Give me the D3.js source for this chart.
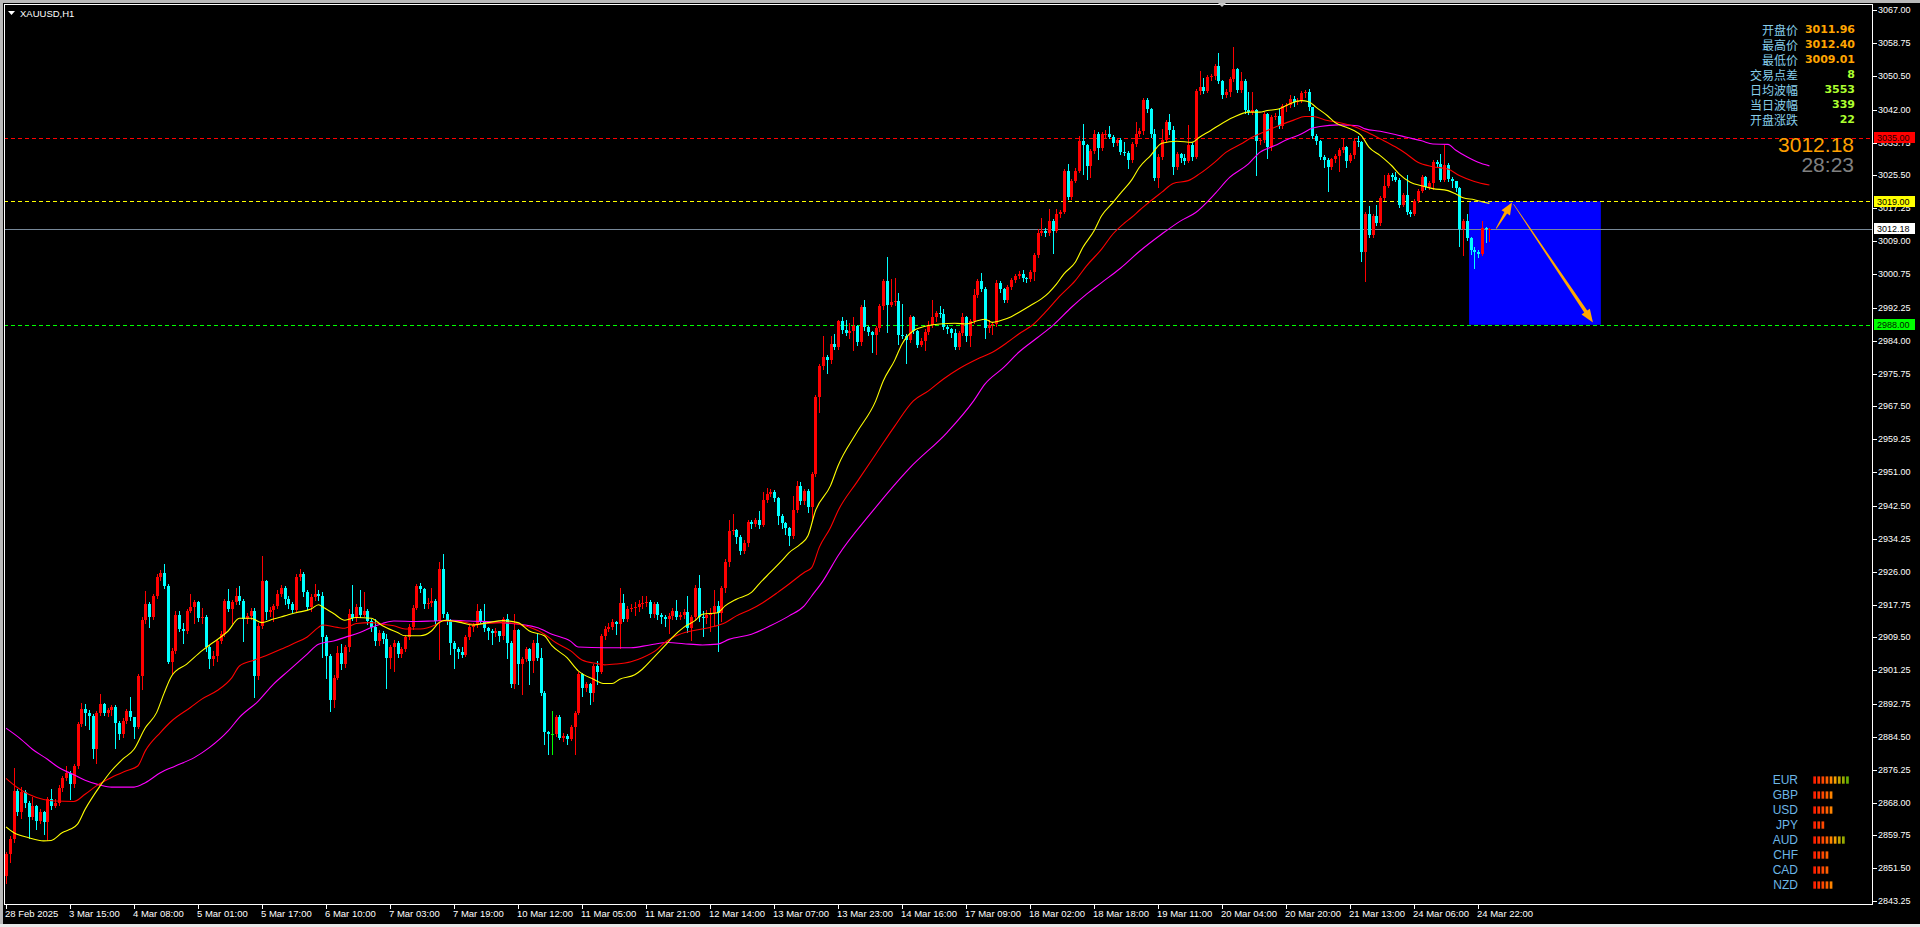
<!DOCTYPE html>
<html><head><meta charset="utf-8">
<script src="https://cdn.jsdelivr.net/npm/d3@7"></script>
<style>html,body{margin:0;padding:0;background:#000;overflow:hidden}svg{display:block}</style>
</head><body>
<svg id="chart" width="1920" height="927"></svg>
<script>
// ---------------- DATA ----------------
const symbolTitle = "XAUUSD,H1";
const timeLabels = ["28 Feb 2025","3 Mar 15:00","4 Mar 08:00","5 Mar 01:00","5 Mar 17:00","6 Mar 10:00","7 Mar 03:00","7 Mar 19:00","10 Mar 12:00","11 Mar 05:00","11 Mar 21:00","12 Mar 14:00","13 Mar 07:00","13 Mar 23:00","14 Mar 16:00","17 Mar 09:00","18 Mar 02:00","18 Mar 18:00","19 Mar 11:00","20 Mar 04:00","20 Mar 20:00","21 Mar 13:00","24 Mar 06:00","24 Mar 22:00"];
const timeLabelBars = [0,17,34,51,68,85,102,119,136,153,170,187,204,221,238,255,272,289,306,323,340,357,374,391];
const priceTicks = [3067.00,3058.75,3050.50,3042.00,3033.75,3025.50,3017.25,3009.00,3000.75,2992.25,2984.00,2975.75,2967.50,2959.25,2951.00,2942.50,2934.25,2926.00,2917.75,2909.50,2901.25,2892.75,2884.50,2876.25,2868.00,2859.75,2851.50,2843.25];

const closes = [
2855.2,2858.9,2870.9,2865.7,2870.7,2868.0,2864.4,2867.1,2863.4,2865.6,
2863.1,2868.8,2867.2,2868.0,2871.6,2874.1,2875.5,2872.6,2877.2,2887.7,
2891.5,2890.6,2889.8,2881.4,2890.4,2892.7,2890.6,2891.2,2891.9,2888.1,
2885.2,2888.5,2891.0,2889.4,2887.1,2899.8,2913.9,2917.8,2914.5,2919.9,
2924.7,2925.6,2922.4,2903.3,2906.1,2915.1,2911.6,2911.1,2916.2,2917.2,
2918.3,2914.3,2914.7,2907.0,2904.0,2904.8,2908.6,2910.3,2918.7,2916.6,
2918.3,2919.9,2918.7,2914.1,2914.9,2916.2,2899.8,2912.4,2923.7,2915.8,
2916.4,2917.4,2920.5,2922.0,2919.1,2918.0,2916.3,2924.7,2925.4,2921.0,
2917.2,2919.7,2920.4,2920.0,2909.6,2904.9,2893.7,2899.4,2905.7,2902.9,
2907.0,2915.3,2914.3,2917.2,2915.2,2916.2,2913.6,2912.2,2908.5,2910.7,
2909.0,2904.4,2907.0,2908.2,2905.3,2906.5,2909.6,2912.1,2917.0,2922.4,
2921.6,2917.8,2918.2,2918.7,2913.6,2926.6,2915.3,2913.6,2908.0,2906.5,
2905.8,2905.1,2909.6,2912.0,2912.6,2916.2,2913.7,2911.8,2911.1,2910.7,
2911.0,2909.9,2914.2,2908.2,2897.7,2911.3,2902.8,2904.0,2906.5,2903.6,
2908.2,2904.4,2895.6,2885.8,2885.2,2885.2,2889.4,2884.3,2884.8,2884.0,
2887.0,2890.6,2900.3,2896.7,2897.7,2895.6,2902.3,2900.9,2909.9,2911.7,
2912.2,2913.4,2912.8,2918.1,2914.1,2916.6,2917.0,2917.2,2917.8,2918.2,
2918.4,2915.3,2917.8,2915.2,2914.6,2914.1,2914.9,2916.2,2914.5,2915.2,
2915.9,2911.8,2914.5,2922.0,2914.5,2914.3,2915.0,2915.5,2917.4,2915.7,
2922.0,2928.5,2936.3,2936.4,2934.8,2931.2,2933.3,2938.4,2937.9,2938.9,
2937.8,2944.0,2945.6,2945.9,2944.5,2939.9,2938.2,2936.9,2935.0,2941.5,
2947.6,2943.8,2946.3,2942.3,2950.5,2969.9,2977.7,2980.0,2979.1,2983.3,
2982.5,2988.9,2986.7,2985.9,2986.5,2987.8,2983.8,2992.5,2987.5,2986.2,
2985.5,2987.1,2992.8,2998.9,2993.0,2993.6,2993.9,2985.5,2985.2,2984.2,
2989.9,2986.5,2983.0,2984.0,2986.3,2988.0,2990.0,2990.9,2990.8,2987.5,
2986.9,2986.0,2982.3,2986.0,2989.9,2985.2,2988.9,2995.6,2999.1,2997.0,
2987.2,2988.0,2988.2,2998.6,2996.9,2994.3,2997.6,2999.2,3000.2,3000.8,
2999.7,2999.4,3001.3,3005.6,3011.0,3011.5,3011.0,3014.1,3011.6,3015.7,
3016.2,3026.5,3020.0,3024.2,3026.7,3034.2,3033.1,3027.8,3031.7,3035.9,
3032.3,3035.8,3036.0,3035.2,3033.6,3034.4,3031.3,3031.2,3029.4,3033.4,
3035.9,3036.6,3044.5,3042.1,3035.8,3024.9,3030.2,3034.5,3039.0,3036.8,
3027.5,3030.9,3030.0,3029.2,3033.2,3030.1,3046.8,3047.8,3046.8,3050.2,
3050.6,3053.1,3049.2,3045.8,3046.5,3049.7,3052.2,3047.0,3049.1,3041.9,
3041.5,3042.0,3034.2,3034.4,3040.9,3032.6,3040.3,3040.5,3038.0,3043.0,
3043.3,3044.7,3043.9,3044.3,3046.2,3046.4,3042.6,3035.5,3034.25,3030.2,
3029.4,3027.7,3029.6,3030.5,3031.9,3032.7,3029.2,3030.7,3034.25,3033.9,
3006.4,3015.7,3010.6,3015.2,3013.5,3019.8,3022.9,3025.5,3025.0,3024.4,
3018.2,3020.7,3016.2,3015.8,3019.2,3021.7,3025.0,3022.5,3023.5,3029.0,
3028.4,3024.4,3028.2,3024.6,3024.0,3022.4,3012.1,3014.1,3009.7,3006.8,
3006.4,3005.9,3012.3,3011.96,3012.18];

const opens = [
2849.6,2855.2,2858.9,2870.9,2865.7,2870.7,2868.0,2864.4,2867.1,2863.4,
2865.6,2863.1,2868.8,2867.2,2868.0,2871.6,2874.1,2875.5,2872.6,2877.2,
2887.7,2891.5,2890.6,2889.8,2881.4,2890.4,2892.7,2890.6,2891.2,2891.9,
2888.1,2885.2,2888.5,2891.0,2889.4,2887.1,2899.8,2913.9,2917.8,2914.5,
2919.9,2924.7,2925.6,2922.4,2903.3,2906.1,2915.1,2911.6,2911.1,2916.2,
2917.2,2918.3,2914.3,2914.7,2907.0,2904.0,2904.8,2908.6,2910.3,2918.7,
2916.6,2918.3,2919.9,2918.7,2914.1,2914.9,2916.2,2899.8,2912.4,2923.7,
2915.8,2916.4,2917.4,2920.5,2922.0,2919.1,2918.0,2916.3,2924.7,2925.4,
2921.0,2917.2,2919.7,2920.4,2920.0,2909.6,2904.9,2893.7,2899.4,2905.7,
2902.9,2907.0,2915.3,2914.3,2917.2,2915.2,2916.2,2913.6,2912.2,2908.5,
2910.7,2909.0,2904.4,2907.0,2908.2,2905.3,2906.5,2909.6,2912.1,2917.0,
2922.4,2921.6,2917.8,2918.2,2918.7,2913.6,2926.6,2915.3,2913.6,2908.0,
2906.5,2905.8,2905.1,2909.6,2912.0,2912.6,2916.2,2913.7,2911.8,2911.1,
2910.7,2911.0,2909.9,2914.2,2908.2,2897.7,2911.3,2902.8,2904.0,2906.5,
2903.6,2908.2,2904.4,2895.6,2885.8,2885.2,2885.2,2889.4,2884.3,2884.8,
2884.0,2887.0,2890.6,2900.3,2896.7,2897.7,2895.6,2902.3,2900.9,2909.9,
2911.7,2912.2,2913.4,2912.8,2918.1,2914.1,2916.6,2917.0,2917.2,2917.8,
2918.2,2918.4,2915.3,2917.8,2915.2,2914.6,2914.1,2914.9,2916.2,2914.5,
2915.2,2915.9,2911.8,2914.5,2922.0,2914.5,2914.3,2915.0,2915.5,2917.4,
2915.7,2922.0,2928.5,2936.3,2936.4,2934.8,2931.2,2933.3,2938.4,2937.9,
2938.9,2937.8,2944.0,2945.6,2945.9,2944.5,2939.9,2938.2,2936.9,2935.0,
2941.5,2947.6,2943.8,2946.3,2942.3,2950.5,2969.9,2977.7,2980.0,2979.1,
2983.3,2982.5,2988.9,2986.7,2985.9,2986.5,2987.8,2983.8,2992.5,2987.5,
2986.2,2985.5,2987.1,2992.8,2998.9,2993.0,2993.6,2993.9,2985.5,2985.2,
2984.2,2989.9,2986.5,2983.0,2984.0,2986.3,2988.0,2990.0,2990.9,2990.8,
2987.5,2986.9,2986.0,2982.3,2986.0,2989.9,2985.2,2988.9,2995.6,2999.1,
2997.0,2987.2,2988.0,2988.2,2998.6,2996.9,2994.3,2997.6,2999.2,3000.2,
3000.8,2999.7,2999.4,3001.3,3005.6,3011.0,3011.5,3011.0,3014.1,3011.6,
3015.7,3016.2,3026.5,3020.0,3024.2,3026.7,3034.2,3033.1,3027.8,3031.7,
3035.9,3032.3,3035.8,3036.0,3035.2,3033.6,3034.4,3031.3,3031.2,3029.4,
3033.4,3035.9,3036.6,3044.5,3042.1,3035.8,3024.9,3030.2,3034.5,3039.0,
3036.8,3027.5,3030.9,3030.0,3029.2,3033.2,3030.1,3046.8,3047.8,3046.8,
3050.2,3050.6,3053.1,3049.2,3045.8,3046.5,3049.7,3052.2,3047.0,3049.1,
3041.9,3041.5,3042.0,3034.2,3034.4,3040.9,3032.6,3040.3,3040.5,3038.0,
3043.0,3043.3,3044.7,3043.9,3044.3,3046.2,3046.4,3042.6,3035.5,3034.25,
3030.2,3029.4,3027.7,3029.6,3030.5,3031.9,3032.7,3029.2,3030.7,3034.25,
3033.9,3006.4,3015.7,3010.6,3015.2,3013.5,3019.8,3022.9,3025.5,3025.0,
3024.4,3018.2,3020.7,3016.2,3015.8,3019.2,3021.7,3025.0,3022.5,3023.5,
3029.0,3028.4,3024.4,3028.2,3024.6,3024.0,3022.4,3012.1,3014.1,3009.7,
3006.8,3006.4,3005.9,3012.3,3011.96];

const highs = [
2855.5,2859.5,2876.8,2871.5,2871.8,2871.2,2868.5,2869.3,2867.5,2866.5,
2866.0,2869.5,2871.3,2869.0,2872.3,2874.6,2877.2,2876.0,2877.6,2888.2,
2893.1,2892.8,2891.2,2890.2,2891.0,2895.2,2893.0,2891.8,2892.5,2892.4,
2888.5,2889.2,2891.5,2894.4,2889.6,2900.3,2914.5,2921.2,2918.3,2920.5,
2925.4,2926.5,2927.9,2922.8,2906.8,2916.0,2916.2,2913.0,2916.7,2920.4,
2918.8,2918.7,2917.0,2915.0,2907.6,2906.0,2909.0,2911.0,2919.2,2921.6,
2918.8,2922.0,2922.4,2919.2,2915.5,2916.8,2916.8,2913.0,2930.0,2924.0,
2917.2,2918.0,2921.5,2922.6,2922.5,2920.0,2918.5,2925.3,2926.6,2925.8,
2921.5,2920.3,2922.9,2921.5,2920.8,2910.2,2905.4,2900.0,2907.4,2907.8,
2907.5,2916.6,2922.7,2917.8,2921.3,2920.8,2916.6,2914.0,2914.0,2911.3,
2911.0,2910.3,2907.6,2908.8,2908.6,2907.2,2910.2,2912.8,2917.6,2923.0,
2923.1,2921.8,2919.5,2922.0,2919.2,2928.5,2930.4,2915.8,2914.0,2908.5,
2907.0,2907.0,2910.2,2912.6,2913.2,2918.0,2916.5,2918.0,2912.0,2911.5,
2911.8,2911.2,2914.6,2915.3,2908.6,2915.3,2911.5,2904.5,2907.0,2906.8,
2908.8,2910.7,2906.9,2896.0,2886.0,2891.0,2890.0,2890.0,2885.5,2885.3,
2887.5,2891.0,2900.8,2900.6,2898.3,2898.0,2902.8,2903.6,2910.3,2912.3,
2913.0,2914.2,2913.7,2921.9,2920.5,2917.5,2917.8,2918.5,2919.0,2919.8,
2920.0,2918.8,2918.3,2918.4,2915.6,2915.0,2915.5,2916.8,2918.8,2915.8,
2916.5,2920.0,2915.0,2922.6,2925.2,2916.0,2916.4,2917.0,2921.3,2918.7,
2922.5,2929.3,2938.9,2940.6,2936.8,2935.2,2934.0,2938.9,2939.0,2939.5,
2941.3,2945.9,2947.0,2946.8,2946.5,2944.8,2940.4,2938.5,2937.2,2945.1,
2948.8,2948.4,2946.8,2946.8,2951.0,2970.4,2978.2,2985.3,2980.5,2985.3,
2985.7,2989.2,2990.0,2989.2,2988.4,2990.0,2988.0,2993.0,2994.1,2987.8,
2986.5,2987.6,2993.3,2999.5,3004.9,2999.5,2999.7,2996.1,2993.2,2985.8,
2990.4,2990.3,2986.8,2984.8,2987.0,2989.0,2994.1,2991.5,2992.8,2992.0,
2988.0,2987.2,2987.0,2986.5,2990.9,2990.2,2989.4,2997.0,2999.5,3001.0,
2997.4,2989.2,2988.8,2999.2,2999.1,2997.2,2998.1,2999.7,3000.7,3001.6,
3001.7,3000.1,3001.8,3006.0,3012.0,3014.7,3012.4,3017.1,3014.6,3017.1,
3016.8,3027.1,3028.4,3024.7,3027.3,3035.5,3038.3,3033.5,3032.2,3036.8,
3036.3,3036.3,3036.9,3038.0,3035.6,3034.9,3034.8,3033.8,3031.6,3034.0,
3039.0,3037.3,3045.0,3044.9,3042.5,3037.2,3030.8,3037.2,3039.5,3040.9,
3038.0,3031.4,3031.2,3031.0,3038.2,3033.7,3047.3,3051.8,3050.0,3050.7,
3051.0,3053.6,3056.3,3049.5,3047.2,3050.3,3057.7,3052.6,3051.4,3049.6,
3046.4,3046.4,3042.3,3035.0,3041.4,3041.2,3040.8,3041.2,3042.2,3043.5,
3043.8,3045.8,3045.5,3045.0,3046.8,3047.0,3047.2,3042.8,3035.8,3034.5,
3030.6,3030.0,3030.0,3031.0,3032.4,3034.7,3033.0,3031.2,3034.8,3035.3,
3034.2,3016.2,3017.9,3015.7,3018.2,3020.3,3025.5,3026.0,3026.2,3026.3,
3024.8,3021.2,3025.7,3016.8,3019.7,3022.2,3025.5,3025.4,3024.2,3029.5,
3029.5,3030.9,3033.2,3028.6,3025.0,3024.2,3022.6,3014.6,3015.7,3010.0,
3007.5,3006.9,3014.1,3012.5,3012.40];

const lows = [
2847.7,2853.0,2858.0,2865.0,2864.2,2867.0,2859.2,2864.0,2861.3,2863.0,
2860.0,2858.5,2866.5,2866.8,2867.5,2871.0,2873.8,2868.8,2872.0,2876.8,
2887.2,2887.5,2886.5,2879.3,2878.0,2890.0,2890.0,2889.8,2890.0,2881.8,
2884.0,2884.5,2888.0,2888.8,2884.3,2886.8,2896.5,2913.0,2912.0,2914.0,
2919.5,2923.8,2922.0,2903.0,2900.3,2905.6,2911.0,2908.2,2910.5,2915.8,
2913.2,2913.6,2913.0,2906.0,2901.9,2902.5,2903.5,2908.0,2909.8,2916.0,
2913.0,2917.8,2918.0,2908.6,2913.0,2914.0,2894.4,2899.0,2911.8,2914.0,
2914.8,2913.5,2916.8,2920.0,2918.0,2917.0,2915.8,2916.0,2924.0,2920.0,
2916.5,2916.0,2919.0,2918.8,2904.6,2899.4,2890.9,2891.9,2899.0,2901.5,
2902.0,2906.0,2913.8,2913.5,2914.6,2914.8,2912.8,2911.2,2907.5,2907.6,
2908.0,2896.7,2901.7,2901.1,2904.6,2904.5,2906.0,2909.0,2911.5,2916.5,
2921.0,2917.0,2916.8,2917.5,2912.8,2904.0,2914.5,2912.8,2905.3,2901.9,
2904.2,2904.5,2904.7,2909.0,2911.0,2912.0,2913.0,2911.0,2909.0,2907.8,
2909.8,2908.5,2909.2,2904.4,2897.0,2896.9,2897.7,2895.2,2903.5,2897.7,
2900.7,2903.8,2895.0,2882.7,2880.2,2880.2,2884.8,2883.9,2883.5,2882.6,
2883.7,2880.2,2890.2,2894.8,2896.0,2892.7,2893.4,2897.7,2900.5,2909.0,
2911.0,2911.5,2910.3,2906.9,2913.5,2913.5,2916.0,2915.0,2916.0,2917.0,
2917.5,2914.5,2914.6,2914.0,2913.2,2912.3,2910.7,2914.0,2914.0,2914.0,
2914.3,2910.8,2908.8,2913.9,2913.5,2909.8,2913.0,2911.0,2912.5,2906.1,
2913.5,2920.8,2927.5,2935.5,2933.3,2930.5,2930.8,2932.5,2937.0,2937.5,
2937.0,2937.5,2943.5,2945.0,2943.8,2937.9,2937.0,2935.5,2932.7,2934.5,
2941.0,2943.0,2943.0,2940.9,2938.8,2950.0,2966.2,2977.0,2976.0,2978.5,
2982.0,2982.0,2986.0,2985.5,2984.8,2981.6,2983.0,2983.0,2986.8,2985.5,
2981.1,2980.6,2986.5,2992.0,2986.3,2992.8,2993.0,2983.2,2984.8,2978.3,
2983.8,2986.0,2982.3,2982.7,2981.6,2985.8,2987.5,2989.0,2990.0,2987.0,
2986.0,2985.0,2981.8,2982.0,2985.5,2984.0,2982.7,2988.5,2995.0,2996.5,
2984.6,2986.3,2985.8,2987.6,2996.3,2993.8,2993.8,2997.0,2998.8,2999.8,
2999.0,2998.8,2999.0,2999.2,3005.0,3010.5,3010.2,3010.6,3006.0,3011.2,
3015.0,3016.0,3019.5,3019.6,3023.8,3026.3,3025.9,3024.6,3025.0,3031.2,
3029.6,3031.8,3035.2,3034.8,3033.0,3033.2,3030.8,3030.6,3027.4,3029.0,
3033.0,3035.5,3036.0,3041.5,3035.2,3024.4,3022.5,3029.6,3033.8,3036.0,
3025.9,3027.0,3029.0,3028.5,3028.8,3029.5,3029.8,3046.0,3046.2,3046.4,
3049.5,3049.8,3048.6,3044.9,3045.2,3045.5,3049.2,3046.4,3046.5,3041.3,
3040.9,3041.0,3025.5,3033.5,3034.0,3029.9,3032.0,3039.8,3037.5,3037.5,
3041.6,3042.8,3043.0,3043.4,3044.0,3045.3,3042.0,3035.0,3033.5,3029.6,
3027.6,3021.5,3027.2,3029.0,3026.7,3031.5,3027.6,3028.8,3030.0,3033.0,
3003.9,2999.1,3010.0,3010.0,3013.0,3013.0,3019.3,3022.5,3024.3,3024.0,
3017.6,3017.8,3015.7,3015.2,3015.5,3018.8,3021.3,3022.0,3022.2,3022.0,
3027.8,3024.0,3024.0,3024.0,3022.5,3021.5,3007.7,3005.4,3009.2,3005.8,
3002.3,3004.9,3005.5,3008.7,3009.01];

// moving averages: [bar index, price]
const maFast = [[0,2861.9],[2,2860.5],[6,2859.2],[10,2858.4],[12,2858.5],[15,2860.5],[17,2861.3],[19,2862.6],[21,2866.3],[25,2872.2],[28,2876.0],[31,2878.9],[34,2881.4],[37,2886.8],[40,2890.6],[42,2895.5],[44,2899.8],[48,2902.8],[52,2906.1],[55,2908.2],[59,2911.1],[62,2914.3],[65,2914.3],[68,2913.2],[71,2914.1],[74,2914.9],[77,2915.7],[81,2916.6],[83,2917.7],[84,2917.2],[87,2915.5],[90,2913.8],[93,2914.5],[97,2914.3],[100,2912.4],[104,2910.7],[106,2909.9],[110,2909.9],[113,2911.1],[115,2913.2],[117,2913.8],[121,2913.2],[124,2912.6],[128,2913.2],[132,2913.7],[136,2913.2],[139,2911.1],[143,2909.9],[145,2907.4],[149,2904.4],[152,2901.1],[156,2899.0],[159,2897.9],[161,2897.9],[163,2899.0],[167,2900.1],[169,2901.5],[172,2904.4],[175,2907.4],[177,2909.5],[180,2912.0],[183,2913.7],[185,2915.3],[189,2915.7],[191,2917.4],[194,2919.1],[198,2920.8],[200,2922.9],[203,2925.8],[206,2928.7],[208,2930.8],[211,2932.9],[213,2935.0],[215,2941.3],[219,2947.6],[221,2952.6],[226,2961.0],[231,2968.9],[233,2973.9],[236,2979.0],[238,2983.2],[241,2986.5],[243,2987.3],[245,2987.8],[248,2988.2],[252,2988.4],[255,2988.2],[258,2989.0],[260,2989.4],[262,2988.6],[264,2989.0],[267,2990.0],[269,2991.1],[272,2992.8],[275,2994.5],[277,2996.1],[279,2998.2],[281,3000.8],[284,3003.7],[286,3007.4],[289,3011.6],[291,3015.4],[294,3018.7],[296,3021.0],[299,3024.4],[301,3027.5],[304,3030.5],[307,3033.6],[311,3034.1],[315,3033.8],[317,3035.1],[320,3036.8],[322,3038.0],[326,3040.1],[330,3041.4],[333,3041.4],[335,3041.8],[338,3042.2],[341,3043.5],[344,3044.3],[346,3044.0],[348,3042.6],[351,3040.5],[353,3038.8],[356,3037.6],[358,3036.8],[360,3035.5],[362,3032.6],[365,3030.5],[368,3028.0],[370,3025.9],[373,3023.8],[376,3022.9],[379,3022.2],[383,3021.7],[385,3020.9],[387,3019.9],[390,3019.4],[392,3018.9],[394,3018.5]];
const maMid = [[0,2874.1],[3,2871.8],[6,2870.1],[10,2868.8],[13,2868.4],[18,2868.3],[21,2870.1],[24,2872.2],[28,2874.3],[32,2876.0],[35,2877.2],[37,2881.0],[41,2885.6],[44,2888.5],[49,2891.9],[52,2894.0],[56,2896.1],[60,2899.4],[62,2902.3],[66,2903.8],[69,2904.9],[73,2906.5],[76,2907.8],[80,2909.6],[83,2912.0],[84,2912.6],[88,2912.0],[90,2911.8],[93,2913.0],[97,2913.2],[100,2912.8],[103,2912.4],[106,2911.6],[110,2911.6],[114,2912.6],[116,2913.6],[121,2913.5],[124,2912.8],[132,2913.2],[137,2912.6],[143,2910.3],[146,2908.2],[150,2906.1],[153,2903.8],[157,2902.9],[159,2902.6],[162,2902.8],[166,2903.4],[169,2904.4],[173,2906.5],[175,2908.2],[178,2909.9],[182,2911.1],[187,2912.0],[191,2913.2],[194,2914.9],[198,2916.6],[201,2918.2],[205,2920.8],[208,2922.9],[212,2925.8],[214,2927.0],[216,2932.1],[219,2937.1],[221,2941.3],[226,2948.5],[231,2955.5],[236,2962.5],[241,2968.9],[245,2971.4],[249,2974.4],[253,2976.9],[258,2979.4],[262,2981.1],[266,2983.6],[269,2985.7],[273,2988.2],[276,2991.1],[280,2995.3],[284,2999.1],[287,3002.8],[291,3007.0],[294,3010.8],[297,3013.5],[299,3015.0],[301,3016.7],[303,3018.3],[307,3021.3],[310,3023.5],[314,3024.2],[317,3025.9],[321,3028.8],[324,3031.3],[328,3033.4],[331,3035.1],[335,3036.8],[338,3038.0],[342,3039.4],[345,3040.3],[347,3040.3],[351,3039.3],[354,3038.8],[358,3037.8],[361,3036.6],[365,3034.7],[369,3032.7],[372,3030.9],[375,3028.8],[379,3027.7],[383,3027.1],[386,3025.5],[390,3024.0],[394,3023.1]];
const maSlow = [[0,2886.7],[4,2883.9],[7,2881.4],[11,2878.9],[14,2876.8],[18,2875.0],[21,2873.6],[25,2872.4],[28,2871.9],[34,2871.9],[37,2873.0],[41,2875.5],[45,2877.2],[50,2879.3],[54,2881.8],[59,2886.0],[62,2889.4],[67,2893.5],[71,2897.7],[75,2901.1],[80,2905.3],[83,2907.8],[87,2908.6],[90,2909.5],[94,2910.7],[97,2912.0],[100,2913.0],[103,2913.6],[109,2913.5],[113,2913.6],[118,2913.8],[123,2913.6],[132,2913.2],[141,2912.0],[145,2910.3],[150,2908.5],[152,2907.1],[159,2906.9],[166,2906.9],[171,2907.6],[176,2908.2],[180,2907.9],[185,2907.6],[189,2907.8],[192,2909.0],[198,2910.3],[203,2912.4],[208,2914.9],[212,2917.4],[214,2919.9],[217,2923.7],[221,2930.0],[230,2941.0],[240,2952.0],[250,2961.0],[257,2968.9],[260,2973.1],[265,2977.3],[269,2981.1],[274,2984.8],[278,2987.8],[283,2992.4],[287,2995.7],[291,2998.6],[296,3002.2],[301,3006.4],[307,3010.8],[312,3014.1],[316,3016.2],[321,3020.8],[325,3025.0],[330,3028.4],[333,3031.3],[337,3033.0],[340,3034.4],[344,3035.9],[347,3037.4],[349,3037.8],[354,3038.2],[359,3038.0],[361,3037.2],[365,3036.6],[369,3035.8],[372,3035.1],[376,3034.2],[379,3033.4],[383,3033.3],[385,3031.9],[388,3030.2],[391,3028.8],[394,3027.9]];

const levelPrices = [3035.00, 3019.00, 2988.00];
const bidPrice = 3012.18;
const zoneBars = [388.6, 423.6];
const zonePrices = [3019.0, 2988.0];
const arrowUp = [[395.8, 3012.2], [400.0, 3018.7]];
const arrowDown = [[400.4, 3018.3], [421.5, 2988.6]];
const infoLabels = ["开盘价","最高价","最低价","交易点差","日均波幅","当日波幅","开盘涨跌"];
const infoValues = ["3011.96","3012.40","3009.01","8","3553","339","22"];
const bigPrice = "3012.18";
const countdown = "28:23";
const ccyNames = ["EUR","GBP","USD","JPY","AUD","CHF","CAD","NZD"];
const ccyStrength = [9,5,5,3,8,4,4,5];

// ---------------- STYLE ----------------
const UP = "#ff0000", DOWN = "#00ffff", DOJI = "#00ff00";
const levelColors = ["#ff0000", "#ffff00", "#00ff00"];
const tagTextColors = ["#1a0000", "#000000", "#002200"];
const strengthColors = ["#ff2000","#ff3300","#ff4800","#ff6000","#ff8400","#f2a000","#c4a400","#98aa00","#66b000"];
const FONT = "'Liberation Sans', Arial, sans-serif";

// ---------------- DRAW ----------------
const svg = d3.select("#chart");
const PL = 4, PT = 4, PR = 1872, PB = 904;
const n = closes.length;
const x = d3.scaleLinear().domain([0, n - 1]).range([6, 6 + (n - 1) * 3.765]);
const y = d3.scaleLinear().domain([2842.54, 3068.56]).range([PB, PT]);

svg.append("rect").attr("width", 1920).attr("height", 927).attr("fill", "#000");
svg.append("rect").attr("x", 0).attr("y", 0).attr("width", 1920).attr("height", 3).attr("fill", "#b9b9b9");
svg.append("rect").attr("x", 0).attr("y", 0).attr("width", 3).attr("height", 927).attr("fill", "#b9b9b9");
svg.append("rect").attr("x", 0).attr("y", 924).attr("width", 1920).attr("height", 3).attr("fill", "#e8e8e8");

svg.append("defs").append("clipPath").attr("id", "pc")
  .append("rect").attr("x", PL + 1).attr("y", PT + 1).attr("width", PR - PL - 1).attr("height", PB - PT - 1);
const g = svg.append("g").attr("clip-path", "url(#pc)");

// blue zone
g.append("rect")
  .attr("x", x(zoneBars[0])).attr("width", x(zoneBars[1]) - x(zoneBars[0]))
  .attr("y", y(zonePrices[0])).attr("height", y(zonePrices[1]) - y(zonePrices[0]))
  .attr("fill", "#0000ff");

// horizontal levels
levelPrices.forEach((p, k) => {
  const yy = Math.round(y(p)) + 0.5;
  g.append("line").attr("x1", PL).attr("x2", PR).attr("y1", yy).attr("y2", yy)
    .attr("stroke", levelColors[k]).attr("stroke-width", 1).attr("stroke-dasharray", "4,3")
    .attr("shape-rendering", "crispEdges");
});
{
  const yy = Math.round(y(bidPrice)) + 0.5;
  g.append("line").attr("x1", PL).attr("x2", PR).attr("y1", yy).attr("y2", yy)
    .attr("stroke", "#778899").attr("stroke-width", 1).attr("shape-rendering", "crispEdges");
}

// candles
const cg = g.append("g").attr("shape-rendering", "crispEdges");
for (let i = 0; i < n; i++) {
  const o = opens[i], c = closes[i];
  const h = Math.max(highs[i], o, c), l = Math.min(lows[i], o, c);
  const col = c > o ? UP : (c < o ? DOWN : DOJI);
  const cx = Math.round(x(i));
  cg.append("line").attr("x1", cx + 0.5).attr("x2", cx + 0.5)
    .attr("y1", Math.round(y(h))).attr("y2", Math.round(y(l)) + 1).attr("stroke", col);
  const yt = Math.round(y(Math.max(o, c))), yb = Math.round(y(Math.min(o, c)));
  cg.append("rect").attr("x", cx - 1).attr("width", 3)
    .attr("y", yt).attr("height", Math.max(1, yb - yt)).attr("fill", col);
}

// moving averages
const maLine = d3.line().x(d => x(d[0])).y(d => y(d[1])).curve(d3.curveMonotoneX);
[[maSlow, "#ff00ff"], [maMid, "#ff0000"], [maFast, "#ffff00"]].forEach(([data, col]) => {
  g.append("path").attr("d", maLine(data)).attr("fill", "none").attr("stroke", col).attr("stroke-width", 1.1);
});

// arrows
function arrowPoly(a, b, w0, w1, hl, hw) {
  const p0 = [x(a[0]), y(a[1])], p1 = [x(b[0]), y(b[1])];
  const dx = p1[0] - p0[0], dy = p1[1] - p0[1], L = Math.hypot(dx, dy);
  const ux = dx / L, uy = dy / L, nx = -uy, ny = ux;
  const pb = [p1[0] - ux * hl, p1[1] - uy * hl];
  const pts = [
    [p0[0] + nx * w0 / 2, p0[1] + ny * w0 / 2],
    [pb[0] + nx * w1 / 2, pb[1] + ny * w1 / 2],
    [pb[0] + nx * hw, pb[1] + ny * hw],
    p1,
    [pb[0] - nx * hw, pb[1] - ny * hw],
    [pb[0] - nx * w1 / 2, pb[1] - ny * w1 / 2],
    [p0[0] - nx * w0 / 2, p0[1] - ny * w0 / 2]
  ];
  return pts.map(p => p.join(",")).join(" ");
}
g.append("polygon").attr("points", arrowPoly(arrowUp[0], arrowUp[1], 0.8, 3.2, 12, 5)).attr("fill", "#ffa800");
g.append("polygon").attr("points", arrowPoly(arrowDown[0], arrowDown[1], 0.6, 3.6, 13, 5)).attr("fill", "#ffa800");

// frame
const fr = svg.append("g").attr("stroke", "#ffffff").attr("shape-rendering", "crispEdges");
fr.append("line").attr("x1", PL + 0.5).attr("x2", PL + 0.5).attr("y1", PT).attr("y2", PB + 1);
fr.append("line").attr("x1", PL).attr("x2", PR + 1).attr("y1", PT + 0.5).attr("y2", PT + 0.5);
fr.append("line").attr("x1", PR + 0.5).attr("x2", PR + 0.5).attr("y1", PT).attr("y2", PB + 1);
fr.append("line").attr("x1", PL).attr("x2", PR + 1).attr("y1", PB + 0.5).attr("y2", PB + 0.5);

// shift marker
svg.append("polygon").attr("points", "1218,3 1226,3 1222,7").attr("fill", "#c8c8c8");

// title
svg.append("polygon").attr("points", "8,11 15,11 11.5,15").attr("fill", "#ffffff");
svg.append("text").attr("x", 20).attr("y", 13).attr("dominant-baseline", "central")
  .attr("font-family", FONT).attr("font-size", 9.5).attr("fill", "#ffffff").text(symbolTitle);

// price axis
priceTicks.forEach(v => {
  const yy = Math.round(y(v)) + 0.5;
  svg.append("line").attr("x1", PR + 1).attr("x2", PR + 5).attr("y1", yy).attr("y2", yy)
    .attr("stroke", "#fff").attr("shape-rendering", "crispEdges");
  svg.append("text").attr("x", 1878).attr("y", y(v)).attr("dominant-baseline", "central")
    .attr("font-family", FONT).attr("font-size", 9).attr("fill", "#ffffff").text(v.toFixed(2));
});
// price tags
const tagData = levelPrices.map((p, k) => ({p, bg: levelColors[k], fg: tagTextColors[k]}));
tagData.push({p: bidPrice, bg: "#ffffff", fg: "#000000"});
tagData.forEach(t => {
  const yc = y(t.p);
  svg.append("rect").attr("x", 1874).attr("y", Math.round(yc - 5.5)).attr("width", 41).attr("height", 11).attr("fill", t.bg);
  svg.append("text").attr("x", 1877).attr("y", yc + 0.5).attr("dominant-baseline", "central")
    .attr("font-family", FONT).attr("font-size", 9).attr("fill", t.fg).text(t.p.toFixed(2));
});

// time axis
timeLabels.forEach((t, k) => {
  const xx = Math.round(x(timeLabelBars[k])) + 0.5;
  svg.append("line").attr("x1", xx).attr("x2", xx).attr("y1", PB + 1).attr("y2", PB + 5)
    .attr("stroke", "#fff").attr("shape-rendering", "crispEdges");
  svg.append("text").attr("x", xx - 1.5).attr("y", 913.5).attr("dominant-baseline", "central")
    .attr("font-family", FONT).attr("font-size", 9.5).attr("fill", "#ffffff").text(t);
});

// info panel
infoLabels.forEach((t, k) => {
  const yy = 29 + 15 * k;
  svg.append("text").attr("x", 1798).attr("y", yy).attr("text-anchor", "end").attr("dominant-baseline", "central")
    .attr("font-family", "'Noto Sans CJK SC', sans-serif").attr("font-size", 12).attr("fill", "#87ceeb").text(t);
  svg.append("text").attr("x", 1855).attr("y", yy + 0.5).attr("text-anchor", "end").attr("dominant-baseline", "central")
    .attr("font-family", "'DejaVu Sans', sans-serif").attr("font-weight", "bold").attr("font-size", 11)
    .attr("fill", k < 3 ? "#ffa500" : "#adff2f").text(infoValues[k]);
});
svg.append("text").attr("x", 1854).attr("y", 144).attr("text-anchor", "end").attr("dominant-baseline", "central")
  .attr("font-family", FONT).attr("font-size", 21).attr("fill", "#ffa000").text(bigPrice);
svg.append("text").attr("x", 1854).attr("y", 164.5).attr("text-anchor", "end").attr("dominant-baseline", "central")
  .attr("font-family", FONT).attr("font-size", 21).attr("fill", "#808080").text(countdown);

// currency strength
ccyNames.forEach((c, k) => {
  const yy = 780 + 15 * k;
  svg.append("text").attr("x", 1798).attr("y", yy).attr("text-anchor", "end").attr("dominant-baseline", "central")
    .attr("font-family", FONT).attr("font-size", 12).attr("fill", "#6cb6e6").text(c);
  for (let j = 0; j < ccyStrength[k]; j++) {
    svg.append("rect").attr("x", 1813.3 + j * 4.1).attr("y", yy - 3.6).attr("width", 2.7).attr("height", 7.3)
      .attr("fill", strengthColors[j]);
  }
});
</script>
</body></html>
